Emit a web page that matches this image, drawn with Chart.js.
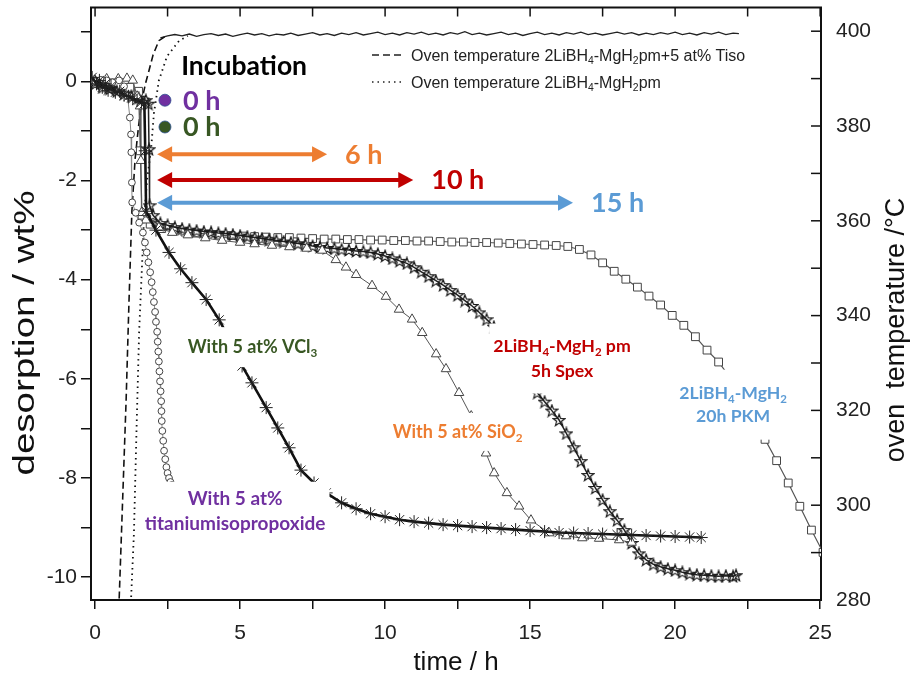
<!DOCTYPE html>
<html>
<head>
<meta charset="utf-8">
<script src="https://cdn.jsdelivr.net/npm/chart.js@4.4.0/dist/chart.umd.min.js"></script>
<style>
  html, body { margin: 0; padding: 0; background: #fff; }
  #wrap { width: 918px; height: 680px; }
</style>
</head>
<body>
<div id="wrap"><canvas id="chart" width="918" height="680"></canvas></div>
<script>
// desorption curves, [time / h, wt%]
const vcl3Points = [
  [-0.1, 0.08], [0.05, -0.05], [0.15, 0.02], [0.25, -0.12], [0.35, -0.05], [0.45, -0.18], [0.55, -0.1],
  [0.7, -0.22], [0.85, -0.2], [1.0, -0.28], [1.15, -0.3], [1.3, -0.35], [1.45, -0.38], [1.6, -0.42],
  [1.7, -0.45], [1.73, -1.4], [1.76, -2.62], [2.1, -3.0], [2.55, -3.45], [2.95, -3.78], [3.34, -4.06],
  [3.83, -4.4], [4.28, -4.81], [4.7, -5.28], [5.07, -5.74], [5.41, -6.08], [5.9, -6.58], [6.3, -6.99],
  [6.69, -7.39], [7.1, -7.84], [7.55, -8.1], [7.97, -8.3], [8.5, -8.5], [9.0, -8.62], [9.5, -8.72],
  [10.0, -8.78], [10.5, -8.84], [11.0, -8.88], [11.5, -8.91], [12.0, -8.94], [12.5, -8.96], [13.0, -8.98],
  [13.5, -9.0], [14.0, -9.02], [14.5, -9.04], [15.0, -9.06], [15.5, -9.08], [16.0, -9.1], [16.5, -9.11],
  [17.0, -9.12], [17.5, -9.13], [18.0, -9.14], [18.5, -9.15], [19.0, -9.16], [19.5, -9.17], [20.0, -9.18],
  [20.5, -9.19], [20.9, -9.2]
];
const tisoPoints = [
  [0.0, 0.0], [0.2, 0.03], [0.4, 0.02], [0.6, -0.02], [0.83, 0.02], [1.0, -0.1], [1.12, -0.3], [1.2, -0.73],
  [1.24, -1.07], [1.25, -1.43], [1.27, -2.04], [1.28, -2.44], [1.4, -2.65], [1.52, -2.85], [1.65, -3.05],
  [1.72, -3.25], [1.78, -3.45], [1.84, -3.65], [1.9, -3.85], [1.95, -4.05], [1.99, -4.25], [2.03, -4.45],
  [2.07, -4.65], [2.1, -4.85], [2.14, -5.05], [2.16, -5.25], [2.18, -5.45], [2.2, -5.65], [2.22, -5.85],
  [2.24, -6.05], [2.26, -6.25], [2.28, -6.45], [2.29, -6.65], [2.3, -6.85], [2.32, -7.05], [2.35, -7.25],
  [2.38, -7.45], [2.42, -7.62], [2.46, -7.78], [2.5, -7.9], [2.55, -8.0], [2.6, -8.08], [2.65, -8.14],
  [2.71, -8.19], [2.77, -8.23], [2.82, -8.25]
];
const sio2Points = [
  [0.0, 0.02], [0.4, 0.05], [0.8, 0.05], [1.1, 0.06], [1.3, 0.02], [1.45, -0.3], [1.55, -0.5], [1.58, -1.6],
  [1.6, -2.65], [1.75, -2.8], [2.2, -2.95], [2.66, -3.05], [3.2, -3.1], [3.8, -3.16], [4.38, -3.21],
  [5.0, -3.25], [5.5, -3.28], [6.1, -3.31], [6.7, -3.34], [7.3, -3.37], [7.83, -3.41], [8.3, -3.6],
  [8.65, -3.75], [9.0, -3.9], [9.55, -4.12], [10.03, -4.34], [10.48, -4.6], [10.93, -4.8], [11.28, -5.07],
  [11.76, -5.5], [12.1, -5.8], [12.55, -6.28], [12.97, -6.75], [13.48, -7.5], [13.76, -7.9], [14.2, -8.3],
  [14.62, -8.57], [15.03, -8.85], [15.66, -9.11], [16.24, -9.17], [16.8, -9.21], [17.38, -9.22],
  [18.07, -9.25], [18.5, -9.3]
];
const spexPoints = [
  [0.0, -0.05], [0.25, -0.12], [0.5, -0.15], [0.75, -0.2], [1.0, -0.25], [1.25, -0.3], [1.5, -0.33],
  [1.75, -0.38], [1.84, -0.45], [1.86, -1.37], [1.88, -2.5],
  [2.0, -2.7], [2.25, -2.86], [2.5, -2.9], [2.75, -2.94], [3.0, -2.97], [3.25, -2.99], [3.5, -3.01],
  [3.75, -3.03], [4.0, -3.04], [4.25, -3.06], [4.5, -3.07], [4.75, -3.09], [5.0, -3.11], [5.25, -3.13],
  [5.5, -3.15], [5.75, -3.17], [6.0, -3.19], [6.25, -3.21], [6.5, -3.23], [6.75, -3.25], [7.0, -3.27],
  [7.25, -3.29], [7.5, -3.32], [7.75, -3.34], [8.0, -3.36], [8.25, -3.37], [8.5, -3.39], [8.75, -3.4],
  [9.0, -3.42], [9.25, -3.43], [9.5, -3.45], [9.75, -3.48], [10.0, -3.52], [10.25, -3.57], [10.5, -3.62],
  [10.75, -3.67], [11.0, -3.75], [11.25, -3.84], [11.5, -3.93], [11.75, -4.02], [12.0, -4.11],
  [12.25, -4.21], [12.5, -4.31], [12.75, -4.42], [13.0, -4.53], [13.25, -4.66], [13.5, -4.8],
  [13.75, -4.95], [14.0, -5.13], [14.25, -5.33], [14.5, -5.55], [14.75, -5.8], [15.0, -6.06],
  [15.25, -6.28], [15.5, -6.46], [15.75, -6.64], [16.0, -6.83], [16.25, -7.1], [16.5, -7.38],
  [16.75, -7.66], [17.0, -7.94], [17.25, -8.2], [17.5, -8.44], [17.75, -8.67], [18.0, -8.85],
  [18.25, -9.05], [18.5, -9.31], [18.75, -9.52], [19.0, -9.65], [19.25, -9.74], [19.5, -9.79],
  [19.75, -9.83], [20.0, -9.86], [20.25, -9.9], [20.5, -9.93], [20.75, -9.95], [21.0, -9.96],
  [21.25, -9.97], [21.5, -9.98], [21.75, -9.97], [22.0, -9.98], [22.1, -9.96]
];
const pkmPoints = [
  [0.0, 0.0], [0.4, -0.05], [0.8, -0.08], [1.2, -0.12], [1.5, -0.2], [1.56, -1.4], [1.62, -2.7],
  [1.9, -2.88], [2.3, -2.97], [2.7, -3.01], [3.1, -3.04], [3.5, -3.06], [3.9, -3.08], [4.3, -3.1],
  [4.7, -3.11], [5.1, -3.12], [5.5, -3.13], [5.9, -3.14], [6.3, -3.15], [6.7, -3.15], [7.1, -3.16],
  [7.5, -3.17], [7.9, -3.18], [8.3, -3.18], [8.7, -3.19], [9.1, -3.19], [9.5, -3.2], [9.9, -3.2],
  [10.3, -3.21], [10.7, -3.21], [11.1, -3.22], [11.5, -3.22], [11.9, -3.23], [12.3, -3.24], [12.7, -3.24],
  [13.1, -3.25], [13.5, -3.25], [13.9, -3.26], [14.3, -3.27], [14.7, -3.28], [15.1, -3.29], [15.5, -3.3],
  [15.9, -3.31], [16.3, -3.33], [16.7, -3.39], [17.1, -3.5], [17.5, -3.66], [17.9, -3.83], [18.3, -3.99],
  [18.7, -4.15], [19.1, -4.33], [19.5, -4.51], [19.9, -4.72], [20.3, -4.92], [20.7, -5.15], [21.1, -5.42],
  [21.5, -5.66], [21.9, -5.98], [22.3, -6.35], [22.7, -6.8], [23.1, -7.22], [23.5, -7.65], [23.9, -8.1],
  [24.3, -8.57], [24.7, -9.05], [25.1, -9.5]
];

// oven temperatures, [time / h, °C]
const ovenTiso = [
  [0.78, 278], [0.83, 280], [0.95, 301], [1.07, 322], [1.17, 343], [1.27, 362], [1.38, 373], [1.5, 380],
  [1.62, 385.5], [1.74, 389], [1.86, 391.7], [2.0, 395], [2.2, 398], [2.4, 398.8]
];
const ovenPm = [
  [1.21, 276], [1.24, 280], [1.34, 294], [1.43, 316], [1.52, 336.6], [1.62, 350.7], [1.69, 361],
  [1.8, 369], [1.93, 375], [2.03, 382.7], [2.2, 389.6], [2.48, 394.7], [2.9, 398], [3.2, 399]
];
const ovenPlateau = [
  [2.25, 398.6], [2.5, 399.0], [2.75, 399.3], [3.0, 399.0], [3.25, 399.4], [3.5, 398.9], [3.75, 399.3],
  [4.0, 399.5], [4.25, 399.1], [4.5, 399.4], [4.75, 398.9], [5.0, 399.3], [5.25, 399.6], [5.5, 399.2],
  [5.75, 399.5], [6.0, 399.0], [6.25, 399.4], [6.5, 399.2], [6.75, 399.6], [7.0, 399.1], [7.25, 399.4],
  [7.5, 399.7], [7.75, 399.2], [8.0, 399.5], [8.25, 399.1], [8.5, 399.6], [8.75, 399.3], [9.0, 399.7],
  [9.25, 399.2], [9.5, 399.5], [9.75, 399.8], [10.0, 399.3], [10.25, 399.6], [10.5, 399.2], [10.75, 399.7],
  [11.0, 399.4], [11.25, 399.8], [11.5, 399.3], [11.75, 399.6], [12.0, 399.2], [12.25, 399.7], [12.5, 399.4],
  [12.75, 399.9], [13.0, 399.3], [13.25, 399.6], [13.5, 399.2], [13.75, 399.5], [14.0, 399.8], [14.25, 399.3],
  [14.5, 399.6], [14.75, 399.1], [15.0, 399.5], [15.25, 399.8], [15.5, 399.3], [15.75, 399.6], [16.0, 399.2],
  [16.25, 399.7], [16.5, 399.4], [16.75, 399.8], [17.0, 399.3], [17.25, 399.6], [17.5, 399.2], [17.75, 399.5],
  [18.0, 399.8], [18.25, 399.4], [18.5, 399.7], [18.75, 399.2], [19.0, 399.6], [19.25, 399.3], [19.5, 399.7],
  [19.75, 399.4], [20.0, 399.8], [20.25, 399.3], [20.5, 399.6], [20.75, 399.2], [21.0, 399.7], [21.25, 399.4],
  [21.5, 399.8], [21.75, 399.3], [22.0, 399.6], [22.2, 399.5]
];

// labelled ticks
const timeTicks = [0, 5, 10, 15, 20, 25];
const wtTicks = [0, -2, -4, -6, -8, -10];
const tempTicks = [280, 300, 320, 340, 360, 380, 400];

// incubation spans drawn as arrows: [label, end time / h, colour]
const incubation = [
  ['6 h', 8.0, '#ED7D31'],
  ['10 h', 10.97, '#C00000'],
  ['15 h', 16.48, '#5B9BD5']
];

const xy = pts => pts.map(p => ({ x: p[0], y: p[1] }));

// open star marker for the Spex sample
const starMark = document.createElement('canvas');
starMark.width = 14; starMark.height = 14;
(() => {
  const c = starMark.getContext('2d');
  c.strokeStyle = '#1a1a1a'; c.lineWidth = 1.2;
  c.beginPath();
  for (let i = 0; i < 10; i++) {
    const r = i % 2 ? 2.6 : 6.2;
    const a = -Math.PI / 2 + i * Math.PI / 5;
    const px = 7 + r * Math.cos(a), py = 7.5 + r * Math.sin(a);
    i ? c.lineTo(px, py) : c.moveTo(px, py);
  }
  c.closePath();
  c.stroke();
})();

const axisFont = { family: 'Liberation Sans', size: 21 };
const ink = '#111';

function subFont(size, weight, family) {
  return `${weight} ${size}px ${family}`;
}
// parts: strings, a leading '_' marks a subscript
function richWidth(ctx, parts, size, weight, family) {
  let w = 0;
  parts.forEach(p => {
    const sub = p[0] === '_';
    ctx.font = subFont(sub ? size * 0.65 : size, weight, family);
    w += ctx.measureText(sub ? p.slice(1) : p).width;
  });
  return w;
}
function drawRich(ctx, parts, x, cy, size, weight, family, color) {
  const base = cy + size * 0.35;
  ctx.fillStyle = color;
  ctx.textBaseline = 'alphabetic';
  ctx.textAlign = 'left';
  parts.forEach(p => {
    const sub = p[0] === '_';
    const s = sub ? p.slice(1) : p;
    ctx.font = subFont(sub ? size * 0.65 : size, weight, family);
    ctx.fillText(s, x, sub ? base + size * 0.22 : base);
    x += ctx.measureText(s).width;
  });
}
// centred multi-line label on a white box
function boxedLabel(ctx, lines, cx, cy, size, color, lineH, pad) {
  const fam = 'Lato', wt = 'bold';
  const widths = lines.map(l => richWidth(ctx, l, size, wt, fam));
  const w = Math.max(...widths);
  const h = lines.length * lineH;
  ctx.fillStyle = '#fff';
  ctx.fillRect(cx - w / 2 - pad[0], cy - h / 2 - pad[1], w + 2 * pad[0], h + 2 * pad[1]);
  lines.forEach((l, i) => {
    drawRich(ctx, l, cx - widths[i] / 2, cy - h / 2 + lineH * (i + 0.5), size, wt, fam, color);
  });
}
function arrow(ctx, x1, x2, y, color) {
  const hl = 15, hw = 8;
  ctx.strokeStyle = color; ctx.fillStyle = color; ctx.lineWidth = 4;
  ctx.beginPath(); ctx.moveTo(x1 + hl - 1, y); ctx.lineTo(x2 - hl + 1, y); ctx.stroke();
  ctx.beginPath(); ctx.moveTo(x1, y); ctx.lineTo(x1 + hl, y - hw); ctx.lineTo(x1 + hl, y + hw); ctx.closePath(); ctx.fill();
  ctx.beginPath(); ctx.moveTo(x2, y); ctx.lineTo(x2 - hl, y - hw); ctx.lineTo(x2 - hl, y + hw); ctx.closePath(); ctx.fill();
}

const overlay = {
  id: 'overlay',
  afterDatasetsDraw(chart) {
    const { ctx, chartArea: a, scales: { x, y, y2 } } = chart;
    const X = v => x.getPixelForValue(v), Y = v => y.getPixelForValue(v);
    ctx.save();

    // top frame with inward ticks, inward ticks on the temperature axis
    ctx.strokeStyle = ink; ctx.lineWidth = 2;
    ctx.beginPath(); ctx.moveTo(a.left - 1, a.top); ctx.lineTo(a.right + 1, a.top); ctx.stroke();
    ctx.lineWidth = 1.5;
    x.ticks.forEach(t => {
      const px = X(t.value);
      ctx.beginPath(); ctx.moveTo(px, a.top); ctx.lineTo(px, a.top + 9); ctx.stroke();
    });
    y2.ticks.forEach(t => {
      const py = y2.getPixelForValue(t.value);
      ctx.beginPath(); ctx.moveTo(a.right, py); ctx.lineTo(a.right - 10, py); ctx.stroke();
    });

    // legend for the oven temperature lines
    const legendX = 372, legendFam = 'Liberation Sans';
    [[[7, 4], 55, ['Oven temperature 2LiBH', '_4', '-MgH', '_2', 'pm+5 at% Tiso']],
     [[1.5, 4], 82, ['Oven temperature 2LiBH', '_4', '-MgH', '_2', 'pm']]].forEach(([dash, ly, parts]) => {
      ctx.strokeStyle = '#222'; ctx.lineWidth = 1.5; ctx.setLineDash(dash);
      ctx.beginPath(); ctx.moveTo(legendX, ly); ctx.lineTo(legendX + 30, ly); ctx.stroke();
      ctx.setLineDash([]);
      drawRich(ctx, parts, legendX + 39, ly, 16, 'normal', legendFam, '#222');
    });

    // sample labels
    boxedLabel(ctx, [['With 5 at% VCl', '_3']], X(5.43), Y(-5.36), 18, '#385723', 20, [4, 10]);
    boxedLabel(ctx, [['With 5 at% SiO', '_2']], X(12.5), Y(-7.07), 18, '#ED7D31', 20, [4, 9]);
    boxedLabel(ctx, [['2LiBH', '_4', '-MgH', '_2', ' pm'], ['5h Spex']], X(16.1), Y(-5.59), 17.7, '#C00000', 25, [4, 10]);
    boxedLabel(ctx, [['2LiBH', '_4', '-MgH', '_2'], ['20h PKM']], X(22.0), Y(-6.52), 17.6, '#5B9BD5', 23, [4, 12]);
    boxedLabel(ctx, [['With 5 at%'], ['titaniumisopropoxide']], X(4.83), Y(-8.66), 19, '#7030A0', 25, [4, 4]);

    // incubation times
    drawRich(ctx, ['Incubation'], X(2.97), Y(0.32), 26.5, 'bold', 'Lato', '#000');
    [[-0.38, '#7030A0'], [-0.92, '#385723']].forEach(([v, c]) => {
      ctx.beginPath(); ctx.arc(X(2.41), Y(v), 6, 0, 2 * Math.PI);
      ctx.fillStyle = c; ctx.fill();
      ctx.strokeStyle = '#2F528F'; ctx.lineWidth = 0.8; ctx.stroke();
      drawRich(ctx, ['0 h'], X(3.03), Y(v), 27, 'bold', 'Lato', c);
    });
    const arrowRows = [-1.47, -1.99, -2.45];
    incubation.forEach(([label, end, color], i) => {
      const py = Y(arrowRows[i]);
      arrow(ctx, X(2.14), X(end), py, color);
      drawRich(ctx, [label], X(end) + 18, py, 27, 'bold', 'Lato', color);
    });

    // rotated axis titles; the left one runs stretched along its length
    ctx.fillStyle = ink; ctx.textAlign = 'center'; ctx.textBaseline = 'middle';
    ctx.font = '29px Liberation Sans';
    ctx.save(); ctx.translate(26, 333); ctx.rotate(-Math.PI / 2); ctx.scale(1.33, 1);
    ctx.fillText('desorption / wt%', 0, 0); ctx.restore();
    ctx.font = '27px Liberation Sans';
    ctx.save(); ctx.translate(897, 330); ctx.rotate(-Math.PI / 2); ctx.fillText('oven  temperature /°C', 0, 0); ctx.restore();

    ctx.restore();
  }
};

// drop the label overhang Chart.js reserves so the plot box sits where wanted
const fixV = w => s => { s.width = w; s.paddingTop = 0; s.paddingBottom = 0; };

const grey = '#555';
new Chart(document.getElementById('chart'), {
  type: 'line',
  data: {
    datasets: [
      { data: xy(vcl3Points), borderColor: '#111', borderWidth: 2.6, pointStyle: 'star', pointRadius: 6.5,
        pointBorderColor: '#222', pointBorderWidth: 1, yAxisID: 'y' },
      { data: xy(tisoPoints), borderColor: '#888', borderWidth: 1, pointStyle: 'circle', pointRadius: 3.4,
        pointBackgroundColor: '#fff', pointBorderColor: '#444', pointBorderWidth: 1, yAxisID: 'y' },
      { data: xy(sio2Points), borderColor: grey, borderWidth: 1, pointStyle: 'triangle', pointRadius: 5.5,
        pointBackgroundColor: '#fff', pointBorderColor: '#444', pointBorderWidth: 1, yAxisID: 'y' },
      { data: xy(spexPoints), borderColor: '#222', borderWidth: 1.5, pointStyle: starMark,
        yAxisID: 'y' },
      { data: xy(pkmPoints), borderColor: grey, borderWidth: 1.2, pointStyle: 'rect', pointRadius: 5.5,
        pointBackgroundColor: '#fff', pointBorderColor: '#444', pointBorderWidth: 1, yAxisID: 'y' },
      { data: xy(ovenTiso), borderColor: '#111', borderWidth: 1.6, borderDash: [7, 4], pointRadius: 0, yAxisID: 'y2' },
      { data: xy(ovenPm), borderColor: '#111', borderWidth: 1.8, borderDash: [1.5, 4], pointRadius: 0, yAxisID: 'y2' },
      { data: xy(ovenPlateau), borderColor: '#222', borderWidth: 1.3, pointRadius: 0, yAxisID: 'y2' }
    ]
  },
  options: {
    responsive: false,
    animation: false,
    devicePixelRatio: 1,
    layout: { padding: { top: 5, left: 0, right: 0, bottom: 0 } },
    plugins: { legend: { display: false }, tooltip: { enabled: false } },
    scales: {
      x: {
        type: 'linear', min: -0.14, max: 25.03,
        ticks: { stepSize: 2.5, includeBounds: false, autoSkip: false, maxRotation: 0, padding: 12,
          callback: v => timeTicks.includes(v) ? String(v) : '', font: axisFont, color: '#222' },
        grid: { drawOnChartArea: false, tickLength: 9, color: ink, lineWidth: 1.5 },
        border: { color: ink, width: 2 },
        title: { display: true, text: 'time / h', font: { family: 'Liberation Sans', size: 26 }, color: ink,
          padding: { top: 0, bottom: 2 } },
        afterFit: s => { s.height = 80; s.paddingLeft = 0; s.paddingRight = 0; }
      },
      y: {
        position: 'left', min: -10.46, max: 1.49,
        ticks: { stepSize: 1, includeBounds: false, autoSkip: false, padding: 4,
          callback: v => wtTicks.includes(v) ? String(v) : '', font: axisFont, color: '#222' },
        grid: { drawOnChartArea: false, tickLength: 10, color: ink, lineWidth: 1.5 },
        border: { color: ink, width: 2 },
        afterFit: fixV(91)
      },
      y2: {
        position: 'right', min: 280, max: 405,
        ticks: { stepSize: 10, includeBounds: false, autoSkip: false, padding: 5,
          callback: v => tempTicks.includes(v) ? String(v) : '', font: axisFont, color: '#222' },
        grid: { drawOnChartArea: false, tickLength: 10, tickColor: 'rgba(0,0,0,0)' },
        border: { color: ink, width: 2 },
        afterFit: fixV(97)
      }
    }
  },
  plugins: [overlay]
});
</script>
</body>
</html>
